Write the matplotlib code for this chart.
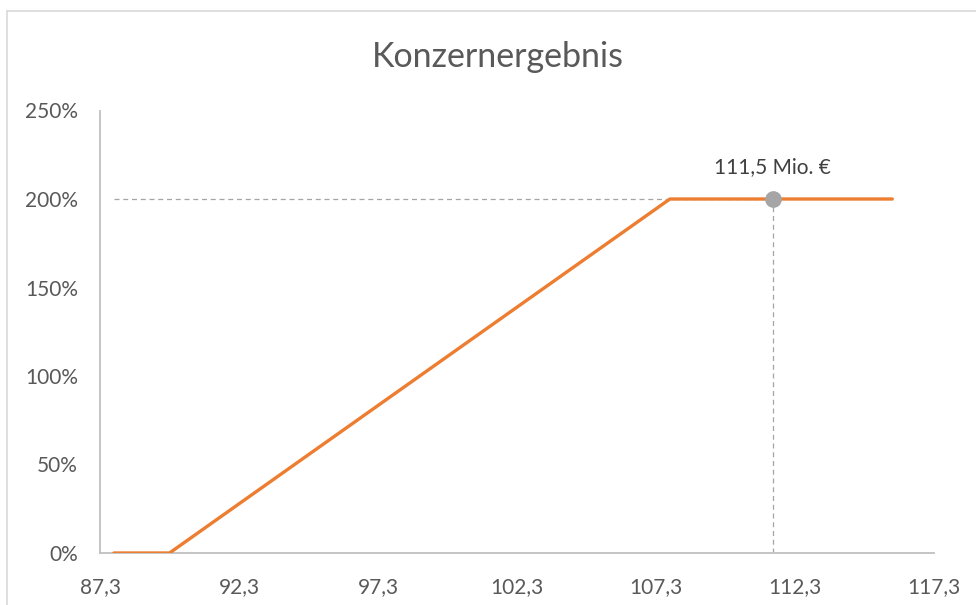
import matplotlib.pyplot as plt
from matplotlib.lines import Line2D
from matplotlib.ticker import FuncFormatter
import numpy as np

# Daten
ergebnis = [87.8, 89.8, 107.8, 115.8]
zielerreichung = [0, 0, 200, 200]
ist_wert = 111.5
ist_prozent = 200
x_ticks = [87.3, 92.3, 97.3, 102.3, 107.3, 112.3, 117.3]
y_ticks = [0, 50, 100, 150, 200, 250]

plt.rcParams['font.family'] = ['Lato', 'DejaVu Sans']

fig = plt.figure(figsize=(9.76, 6.05), dpi=100)
ax = fig.add_axes([100 / 976, 1 - 553 / 605, 834 / 976, 442.5 / 605])

# Rahmen des Diagramms (links und oben sichtbar)
fig.add_artist(Line2D([7 / 976, 7 / 976], [0, 1 - 11 / 605], color='#d9d9d9', lw=1.2))
fig.add_artist(Line2D([7 / 976, 1], [1 - 11 / 605, 1 - 11 / 605], color='#d9d9d9', lw=1.2))

# Hilfslinien zum Ist-Wert
ax.plot([ergebnis[0], ist_wert], [ist_prozent, ist_prozent], color='#a5a5a5',
        lw=0.9, dashes=(4, 3), zorder=2)
ax.plot([ist_wert, ist_wert], [0, ist_prozent], color='#a5a5a5',
        lw=0.9, dashes=(4, 3), zorder=2)

# Kurve
ax.plot(ergebnis, zielerreichung, color='#ed7d31', lw=2.4, zorder=3,
        solid_capstyle='round')
ax.plot([ist_wert], [ist_prozent], 'o', color='#a5a5a5', ms=11, zorder=4)
ax.annotate(f"{ist_wert:.1f}".replace('.', ',') + " Mio. €", (ist_wert, ist_prozent),
            xytext=(0, 23), textcoords='offset points', ha='center', va='center',
            fontsize=15, color='#404040')

ax.set_xlim(87.3, 117.3)
ax.set_ylim(0, 250)
ax.set_xticks(x_ticks)
ax.set_yticks(y_ticks)
ax.xaxis.set_major_formatter(FuncFormatter(lambda v, p: f"{v:.1f}".replace('.', ',')))
ax.yaxis.set_major_formatter(FuncFormatter(lambda v, p: f"{int(round(v))}%"))
ax.tick_params(axis='both', length=0, labelsize=15, colors='#595959')
ax.tick_params(axis='x', pad=17)
ax.tick_params(axis='y', pad=16)

for s in ['top', 'right']:
    ax.spines[s].set_visible(False)
for s in ['left', 'bottom']:
    ax.spines[s].set_color('#c0c0c0')
    ax.spines[s].set_linewidth(1.3)

fig.text(498 / 976, 1 - 57 / 605, 'Konzernergebnis', ha='center', va='center',
         fontsize=24.5, color='#595959')

fig.savefig('out.png', dpi=100, facecolor='white')
